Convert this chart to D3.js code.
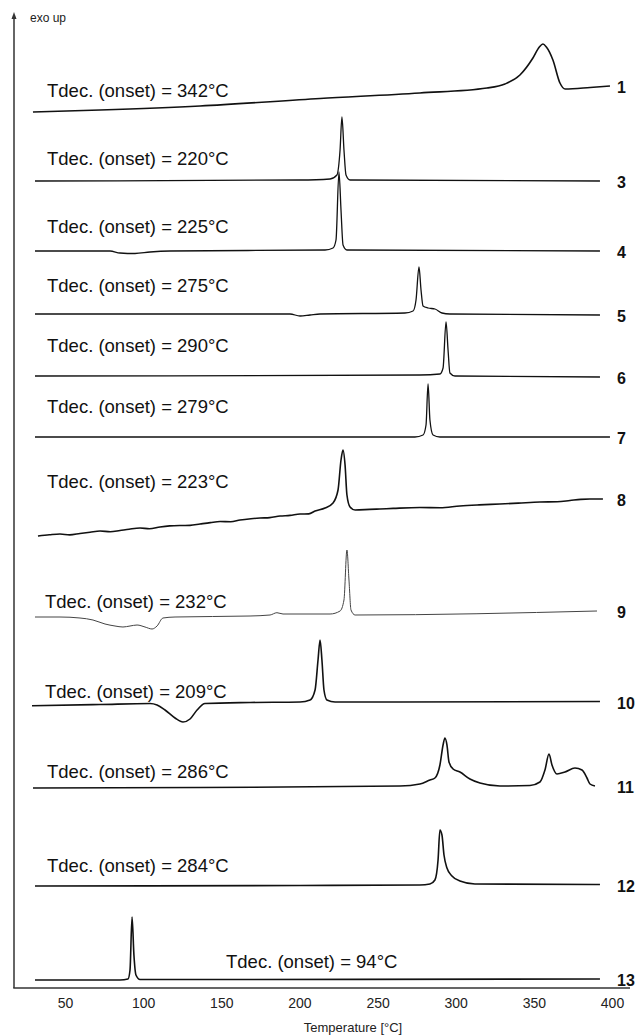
<!DOCTYPE html>
<html lang="en">
<head>
  <meta charset="utf-8">
  <title>DSC curves</title>
  <style>
    body { margin: 0; background: #fff; }
    svg { display: block; font-family: "Liberation Sans", Arial, sans-serif; }
    .curve { fill: none; stroke: #111; stroke-width: 1.6; stroke-linejoin: round; }
    .onset { font-size: 18.5px; fill: #111; }
    .cid { font-size: 16px; font-weight: bold; fill: #111; }
    .x-axis text { font-size: 14px; fill: #222; font-family: "Liberation Sans", Arial, sans-serif; }
  </style>
</head>
<body>
<svg id="chart" width="640" height="1036"></svg>
<script src="https://d3js.org/d3.v7.min.js"></script>
<script>
// temperature [°C], heat flow (a.u., curves stacked, exo up)
const curve1 = [[29.5,876],[72.4,878],[136.4,882],[213.2,889.5],[277.1,895],[320,900],[331.5,904],[341.1,913],[349.4,930],[353.5,941],[355.8,944],[358,941],[362.2,928],[366.7,905],[370,899],[386,900.5],[398.7,902]];
const curve3 = [[30.8,807],[200.4,808],[219.6,809],[224,813],[226,838],[227.2,871],[228.5,838],[229.8,813],[232.4,808],[392.3,807]];
const curve4 = [[30.8,737],[78.8,737],[85.2,735],[94.8,734.5],[104.4,736],[117.2,737],[216.4,738],[221.5,740],[223.4,748],[225.3,816],[226.6,778],[227.9,743],[230.4,738],[392.3,737]];
const curve5 = [[30.8,674],[194,674],[200.4,672],[206.8,673],[213.2,674],[267.5,675],[272.7,677],[274.6,688],[276.5,721],[277.8,698],[279.1,682],[282.3,680],[286.7,679],[291.2,675],[296.3,674],[392.3,673]];
const curve6 = [[30.8,612],[277.1,613],[289.9,614],[291.9,620],[293.8,666],[295.1,638],[296.3,615],[299.5,612],[392.3,611]];
const curve7 = [[30.8,551],[273.9,551],[279.1,553],[281,563],[282.3,604],[283.5,568],[285.5,553],[289.9,551],[398.7,551]];
const curve8 = [[32.7,452],[40,453.2],[46.8,454],[53,453.1],[59.6,454.5],[66,455.8],[72.4,457],[79,456.2],[85.2,457.5],[91,458.8],[98,460],[104,459.2],[110.8,461],[117,462.1],[123.6,462.5],[130,462.6],[136.4,464],[143,465.4],[149.2,466.5],[156,466.2],[162,468],[169,469.3],[174.8,470],[181,470.4],[187.6,472],[194,472.6],[200.4,474],[206,474.1],[210,477],[216.4,480],[221.5,485],[224.7,498],[226.6,528],[227.9,538],[229.2,523],[230.4,493],[232.4,481],[235.6,478],[245,478.6],[251.5,479],[260,479.6],[277.1,480.5],[290,480.2],[302.7,482],[315,483.1],[328.3,484],[340,484.9],[353.9,486],[365,486.3],[373.1,487.5],[380,488.6],[385.9,489],[394.2,489]];
const curve9 = [[30.8,371],[46.8,371],[59.6,370],[67.9,368],[75.6,364],[82,362],[87.1,361],[91.6,362],[96.1,363],[101.2,361],[105.7,359],[108.9,362],[112.7,370],[120.4,371],[168.4,372],[181.2,373],[185.6,375.3],[189.5,374],[219.6,374],[226,377],[228.5,388],[230.4,438],[231.7,408],[233,378],[235.6,373],[390.4,377]];
const curve10 = [[28.9,282.3],[72.4,283.5],[104.4,284.5],[108.9,283],[114,278],[120.4,270],[125.5,266],[130,269],[134.5,278],[139.6,284.5],[168.4,285.5],[200.4,286],[206.8,288],[210,298],[211.9,328],[213.2,348],[214.4,328],[215.7,298],[217.6,288],[222.8,286],[264.3,286],[392.3,286.5]];
const curve11 = [[29.5,200],[136.4,200.5],[264.3,202],[277.1,204],[283.5,208],[286.7,210],[289.9,223],[291.9,243],[293.1,250],[294.4,243],[295.7,226],[298.3,219],[302.7,216],[309.1,209],[315.5,205],[328.3,202],[347.5,202.5],[353.9,206],[357.1,218],[359.7,234],[361.6,223],[364.8,214],[369.9,216],[376.3,220],[380.8,218],[384,210],[385.9,204],[389.1,202]];
const curve12 = [[30.8,102],[200.4,102.5],[277.1,103],[283.5,104],[286.7,108],[288.7,128],[289.9,158],[291.2,153],[292.5,133],[294.4,120],[297.6,112],[302.7,107],[312.3,104],[392.3,103.5]];
const curve13 = [[30.8,8],[85.2,8],[90.3,9],[91.6,18],[92.9,71],[94.1,33],[95.4,13],[98,8.5],[136.4,8.5],[392.3,9]];

const curveIds = ['1', '3', '4', '5', '6', '7', '8', '9', '10', '11', '12', '13'];
const onsetTemps = [342, 220, 225, 275, 290, 279, 223, 232, 209, 286, 284, 94];
const xTicks = [50, 100, 150, 200, 250, 300, 350, 400];

const curves = [curve1, curve3, curve4, curve5, curve6, curve7, curve8, curve9, curve10, curve11, curve12, curve13];

// layout of the onset notes (baseline y, left x)
const noteY = [97, 165, 233, 292, 352, 413, 488, 608, 698, 778, 872, 968];
const noteX = [47, 47, 47, 47, 47, 47, 47, 45, 45, 47, 47, 226];

const svg = d3.select('#chart');
const axisY = 988;

const x = d3.scaleLinear().domain([50, 400]).range([65, 612]);
const y = d3.scaleLinear().domain([0, 973]).range([axisY, 15]);

const line = d3.line()
  .x(d => x(d[0]))
  .y(d => y(d[1]))
  .curve(d3.curveMonotoneX);

// frame: y arrow + x baseline
svg.append('line')
  .attr('x1', 14).attr('x2', 14)
  .attr('y1', axisY).attr('y2', 18)
  .attr('stroke', '#333').attr('stroke-width', 1.5);
svg.append('path')
  .attr('d', 'M14,12 L11.5,19 L16.5,19 Z')
  .attr('fill', '#333');
svg.append('line')
  .attr('x1', 13.25).attr('x2', 630)
  .attr('y1', axisY).attr('y2', axisY)
  .attr('stroke', '#333').attr('stroke-width', 1.5);

svg.append('text')
  .attr('x', 30).attr('y', 22)
  .style('font-size', '12px').style('fill', '#222')
  .text('exo up');

const xAxis = svg.append('g')
  .attr('class', 'x-axis')
  .attr('transform', `translate(0,${axisY})`)
  .call(d3.axisBottom(x).tickValues(xTicks).tickSize(0).tickPadding(10));
xAxis.select('.domain').remove();

svg.append('text')
  .attr('x', 353).attr('y', 1032)
  .attr('text-anchor', 'middle')
  .style('font-size', '13px').style('fill', '#222')
  .text('Temperature [°C]');

// curves
svg.append('g')
  .selectAll('path')
  .data(curves)
  .join('path')
  .attr('class', 'curve')
  .attr('d', line)
  .style('stroke', (d, i) => curveIds[i] === '9' ? '#444' : null)
  .style('stroke-width', (d, i) => {
    if (curveIds[i] === '9') return 1;
    if (['3', '4', '5', '6', '7'].includes(curveIds[i])) return 1.3;
    return null;
  });

// onset notes
svg.append('g')
  .selectAll('text')
  .data(onsetTemps)
  .join('text')
  .attr('class', 'onset')
  .attr('x', (d, i) => noteX[i])
  .attr('y', (d, i) => noteY[i])
  .text(d => `Tdec. (onset) = ${d}°C`);

// compound numbers at the right end of each curve
svg.append('g')
  .selectAll('text')
  .data(curves)
  .join('text')
  .attr('class', 'cid')
  .attr('x', 617)
  .attr('y', d => y(d[d.length - 1][1]) + 7)
  .text((d, i) => curveIds[i]);
</script>
</body>
</html>
